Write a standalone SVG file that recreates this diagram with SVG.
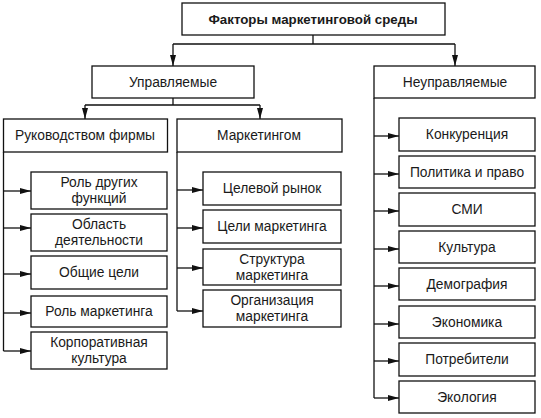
<svg xmlns="http://www.w3.org/2000/svg" width="541" height="418" viewBox="0 0 541 418">
<style>
rect{fill:#fff;stroke:#111;stroke-width:1.3}
text{font-family:"Liberation Sans",Arial,sans-serif;font-size:13.8px;fill:#1a1a1a;text-anchor:middle}
.b{font-weight:bold;font-size:13.3px}
#connectors path{fill:none;stroke:#111;stroke-width:1.3}
.a{marker-end:url(#ah)}
</style>
<defs>
<marker id="ah" viewBox="0 0 11 6" refX="11" refY="3" markerWidth="11" markerHeight="6" markerUnits="userSpaceOnUse" orient="auto"><path d="M0,0 L11,3 L0,6 z" fill="#111"/></marker>
</defs>
<rect x="0" y="0" width="541" height="418" style="fill:#fff;stroke:none"/>
<g id="connectors">
<path d="M313 35 V44 M173 44 H455"/>
<path class="a" d="M173 44 V66"/>
<path class="a" d="M455 44 V66"/>
<path d="M173 98 V105 M85 105 H260"/>
<path class="a" d="M85 105 V119"/>
<path class="a" d="M260 105 V119"/>
<path d="M3.5 152 V351"/>
<path class="a" d="M3.5 191 H31"/>
<path class="a" d="M3.5 228 H31"/>
<path class="a" d="M3.5 274 H31"/>
<path class="a" d="M3.5 313 H31"/>
<path class="a" d="M3.5 351 H31"/>
<path d="M177 152 V311"/>
<path class="a" d="M177 190 H203"/>
<path class="a" d="M177 228 H203"/>
<path class="a" d="M177 268 H203"/>
<path class="a" d="M177 311 H203"/>
<path d="M374 98 V398"/>
<path class="a" d="M374 136 H399"/>
<path class="a" d="M374 174 H399"/>
<path class="a" d="M374 211 H399"/>
<path class="a" d="M374 249 H399"/>
<path class="a" d="M374 286 H399"/>
<path class="a" d="M374 324 H399"/>
<path class="a" d="M374 361 H399"/>
<path class="a" d="M374 398 H399"/>
</g>
<g id="n-root"><rect x="182" y="3" width="263" height="32"/><text class="b" x="313" y="24">Факторы маркетинговой среды</text></g>
<g id="n-upr"><rect x="92" y="66" width="162" height="32"/><text x="173" y="87">Управляемые</text></g>
<g id="n-neupr"><rect x="374" y="66" width="161" height="32"/><text x="455" y="87">Неуправляемые</text></g>
<g id="n-ruk"><rect x="3.5" y="119" width="164" height="33"/><text x="85" y="140">Руководством фирмы</text></g>
<g id="n-mark"><rect x="177" y="119" width="165" height="33"/><text x="259" y="140">Маркетингом</text></g>
<g id="n-l1"><rect x="31" y="172" width="136" height="37"/><text x="99" y="187">Роль других</text><text x="99" y="203">функций</text></g>
<g id="n-l2"><rect x="31" y="214" width="136" height="37"/><text x="99" y="229">Область</text><text x="99" y="245">деятельности</text></g>
<g id="n-l3"><rect x="31" y="256" width="136" height="33"/><text x="99" y="277">Общие цели</text></g>
<g id="n-l4"><rect x="31" y="296" width="136" height="31"/><text x="99" y="316">Роль маркетинга</text></g>
<g id="n-l5"><rect x="31" y="332" width="136" height="37"/><text x="99" y="347">Корпоративная</text><text x="99" y="363">культура</text></g>
<g id="n-m1"><rect x="203" y="172" width="138" height="33"/><text x="272" y="193">Целевой рынок</text></g>
<g id="n-m2"><rect x="203" y="210" width="138" height="33"/><text x="272" y="231">Цели маркетинга</text></g>
<g id="n-m3"><rect x="203" y="249" width="138" height="36"/><text x="272" y="264">Структура</text><text x="272" y="280">маркетинга</text></g>
<g id="n-m4"><rect x="203" y="290" width="138" height="37"/><text x="272" y="305">Организация</text><text x="272" y="321">маркетинга</text></g>
<g id="n-r1"><rect x="399" y="118" width="136" height="33"/><text x="467" y="139">Конкуренция</text></g>
<g id="n-r2"><rect x="399" y="156" width="136" height="32"/><text x="467" y="177">Политика и право</text></g>
<g id="n-r3"><rect x="399" y="193" width="136" height="33"/><text x="467" y="214">СМИ</text></g>
<g id="n-r4"><rect x="399" y="231" width="136" height="32"/><text x="467" y="252">Культура</text></g>
<g id="n-r5"><rect x="399" y="268" width="136" height="32"/><text x="467" y="289">Демография</text></g>
<g id="n-r6"><rect x="399" y="306" width="136" height="32"/><text x="467" y="327">Экономика</text></g>
<g id="n-r7"><rect x="399" y="343" width="136" height="33"/><text x="467" y="364">Потребители</text></g>
<g id="n-r8"><rect x="399" y="381" width="136" height="32"/><text x="467" y="402">Экология</text></g>
</svg>
